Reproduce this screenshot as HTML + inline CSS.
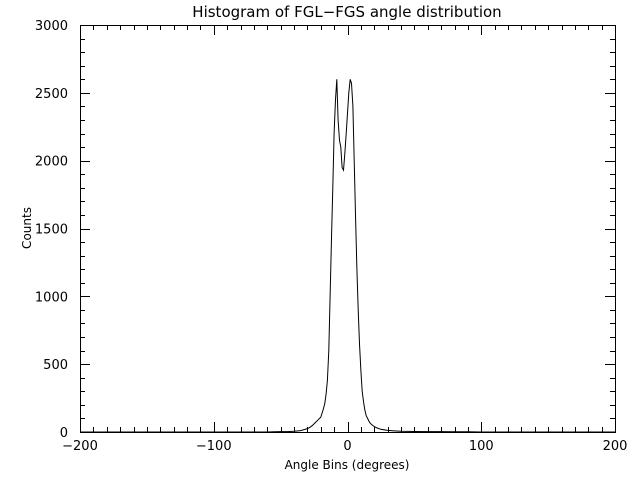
<!DOCTYPE html>
<html><head><meta charset="utf-8"><style>
body{margin:0;background:#fff;}
svg{display:block;font-family:"DejaVu Sans","Liberation Sans",sans-serif;}
</style></head><body>
<svg id="chart" width="640" height="480" viewBox="0 0 640 480">
<rect width="640" height="480" fill="#fff"/>
<text x="347" y="17" font-size="15" text-anchor="middle">Histogram of FGL−FGS angle distribution</text>
<text x="347" y="469" font-size="12" text-anchor="middle">Angle Bins (degrees)</text>
<text x="0" y="0" font-size="12" text-anchor="middle" transform="translate(31,228) rotate(-90)">Counts</text>
<g id="axes"></g>
<polyline id="series" fill="none" stroke="#000" stroke-width="1"/>
</svg>
<script>
const xTicks = [-200, -100, 0, 100, 200];
const yTicks = [0, 500, 1000, 1500, 2000, 2500, 3000];
const angles = [-60,-55,-50,-45,-40,-35,-30,-28,-26,-24,-22,-20,-19,-18,-17,-16,-15,-14,-13,-12,-11,-10,-9,-8,-7,-6,-5,-4,-3,-2,-1,0,1,2,3,4,5,6,7,8,9,10,11,12,13,14,15,16,17,18,20,22,25,30,35,40,50,60,70,80,90,100];
const counts = [0,2,3,3,5,10,25,35,50,70,90,110,140,170,210,280,380,600,1000,1400,1800,2200,2450,2600,2300,2150,2100,1950,1930,2050,2200,2350,2500,2600,2570,2400,2000,1600,1200,900,650,450,300,220,160,120,100,80,65,55,40,30,20,12,8,5,4,3,3,2,2,0];

const X0=80,X1=615,Y0=432,Y1=25;
const xs=v=>X0+(v+200)/400*(X1-X0);
const ys=v=>Y0-v/3000*(Y0-Y1);
const NS='http://www.w3.org/2000/svg';
const g=document.getElementById('axes');
function line(x1,y1,x2,y2,name){
  const l=document.createElementNS(NS,'line');
  l.setAttribute('x1',x1);l.setAttribute('y1',y1);l.setAttribute('x2',x2);l.setAttribute('y2',y2);
  l.setAttribute('stroke','#000');l.setAttribute('stroke-width','1');
  
  
  g.appendChild(l);
}
const frame=document.createElementNS(NS,'rect');
frame.setAttribute('x',X0+0.5);frame.setAttribute('y',Y1+0.5);
frame.setAttribute('width',X1-X0);frame.setAttribute('height',Y0-Y1);
frame.setAttribute('fill','none');frame.setAttribute('stroke','#000');


g.appendChild(frame);
for(let v=-200;v<=200;v+=10){
  const x=Math.round(xs(v))+0.5, len=(v%100===0)?10:5;
  line(x,Y0,x,Y0-len,'x-tick');
  line(x,Y1,x,Y1+len,'x-tick-top');
}
for(let v=0;v<=3000;v+=100){
  const y=Math.round(ys(v))+0.5, len=(v%500===0)?10:5;
  line(X0,y,X0+len,y,'y-tick');
  line(X1,y,X1-len,y,'y-tick-right');
}
xTicks.forEach(v=>{
  const t=document.createElementNS(NS,'text');
  t.setAttribute('x',xs(v));t.setAttribute('y',Y0+18);t.setAttribute('font-size','13');
  t.setAttribute('text-anchor','middle');t.textContent=(v<0?'−':'')+Math.abs(v);
  
  
  g.appendChild(t);
});
yTicks.forEach(v=>{
  const t=document.createElementNS(NS,'text');
  t.setAttribute('x',X0-12);t.setAttribute('y',ys(v)+5);t.setAttribute('font-size','13');
  t.setAttribute('text-anchor','end');t.textContent=v;
  
  
  g.appendChild(t);
});
const pts=[[xs(-200),ys(0)]];
angles.forEach((a,i)=>pts.push([xs(a),ys(counts[i])]));
pts.push([xs(200),ys(0)]);
document.getElementById('series').setAttribute('points',pts.map(p=>p[0].toFixed(1)+','+p[1].toFixed(1)).join(' '));
</script>
</body></html>
